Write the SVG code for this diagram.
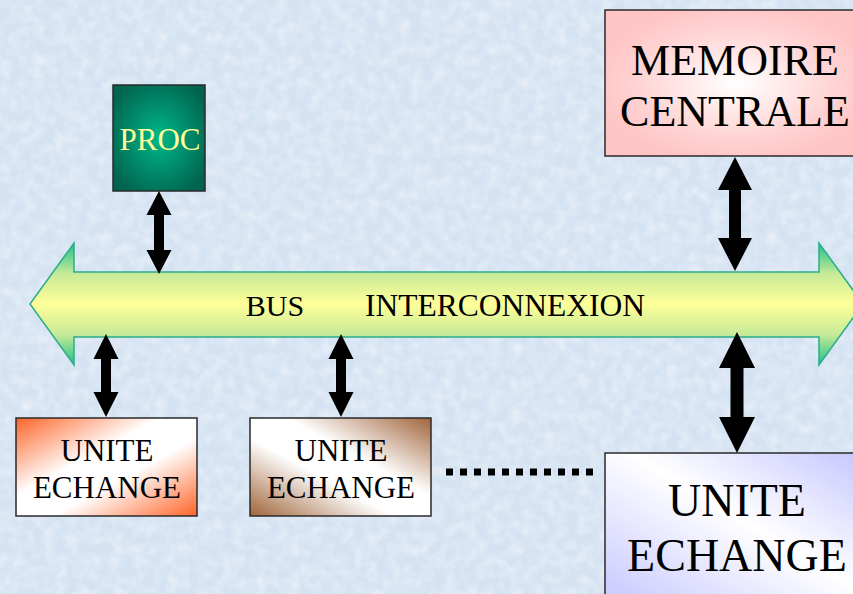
<svg xmlns="http://www.w3.org/2000/svg" width="853" height="594" viewBox="0 0 853 594">
<defs>
<style>
.box{stroke:#2a2a2a;stroke-width:1.5}
.t{font-family:"Liberation Serif","Times New Roman",serif;text-anchor:middle;fill:#000}
.arr{fill:#000}
</style>
<filter id="tex" x="0" y="0" width="100%" height="100%">
<feTurbulence type="fractalNoise" baseFrequency="0.09" numOctaves="2" seed="3" result="n"/>
<feColorMatrix in="n" type="matrix" values="0 0 0 0 1  0 0 0 0 1  0 0 0 0 1  0 0 0 -1.6 1.05" result="w"/>
<feComposite in="w" in2="SourceGraphic" operator="in"/>
</filter>
<linearGradient id="busg" x1="0" y1="0" x2="0" y2="1">
<stop offset="0" stop-color="#1fbf8a"/>
<stop offset="0.25" stop-color="#c6ea98"/>
<stop offset="0.5" stop-color="#ffff99"/>
<stop offset="0.75" stop-color="#c6ea98"/>
<stop offset="1" stop-color="#1fbf8a"/>
</linearGradient>
<radialGradient id="procg" cx="0.5" cy="0.5" r="0.6">
<stop offset="0" stop-color="#00b888"/>
<stop offset="1" stop-color="#00644f"/>
</radialGradient>
<radialGradient id="memg" cx="0.5" cy="0.5" r="0.55">
<stop offset="0" stop-color="#ffffff"/>
<stop offset="0.7" stop-color="#ffd2d2"/>
<stop offset="1" stop-color="#ffc4c4"/>
</radialGradient>
<linearGradient id="ue1" x1="0" y1="0" x2="1" y2="1">
<stop offset="0" stop-color="#ff6428"/>
<stop offset="0.4" stop-color="#ffffff"/>
<stop offset="0.6" stop-color="#ffffff"/>
<stop offset="1" stop-color="#ff6428"/>
</linearGradient>
<linearGradient id="ue2" x1="1" y1="0" x2="0" y2="1">
<stop offset="0" stop-color="#a0643a"/>
<stop offset="0.4" stop-color="#ffffff"/>
<stop offset="0.6" stop-color="#ffffff"/>
<stop offset="1" stop-color="#a0643a"/>
</linearGradient>
<linearGradient id="ue3" x1="1" y1="0" x2="0" y2="1">
<stop offset="0" stop-color="#c4c4ff"/>
<stop offset="0.45" stop-color="#ffffff"/>
<stop offset="1" stop-color="#c4c4ff"/>
</linearGradient>
</defs>
<rect width="853" height="594" fill="#d4e2f2"/>
<rect width="853" height="594" fill="#d4e2f2" filter="url(#tex)" opacity="0.5"/>

<g id="bus">
<polygon points="30,304 74,243 74,272 819,272 819,243 863,304 819,365 819,337 74,337 74,365" fill="url(#busg)" stroke="#2aae88" stroke-width="1.5"/>
<text class="t" x="275" y="316" font-size="30">BUS</text>
<text class="t" x="505" y="316" font-size="31.5">INTERCONNEXION</text>
</g>

<g id="proc">
<rect class="box" x="113" y="85" width="92" height="106" fill="url(#procg)"/>
<text class="t" x="160" y="150" font-size="31" style="fill:#ffff99">PROC</text>
</g>

<g id="memoire">
<rect class="box" x="605" y="10" width="262" height="146" fill="url(#memg)"/>
<text class="t" x="735" y="75" font-size="44">MEMOIRE</text>
<text class="t" x="735" y="126" font-size="44">CENTRALE</text>
</g>

<g id="unite1">
<rect class="box" x="16" y="418" width="181" height="98" fill="url(#ue1)"/>
<text class="t" x="107" y="461" font-size="31">UNITE</text>
<text class="t" x="107" y="498" font-size="31">ECHANGE</text>
</g>

<g id="unite2">
<rect class="box" x="250" y="418" width="181" height="98" fill="url(#ue2)"/>
<text class="t" x="341" y="461" font-size="31">UNITE</text>
<text class="t" x="341" y="498" font-size="31">ECHANGE</text>
</g>

<g id="unite3">
<rect class="box" x="605" y="453" width="265" height="160" fill="url(#ue3)"/>
<text class="t" x="737" y="516" font-size="46">UNITE</text>
<text class="t" x="737" y="571" font-size="46">ECHANGE</text>
</g>

<g id="connectors">
<polygon class="arr" points="159,191 171.5,215 164,215 164,250 171.5,250 159,274 146.5,250 154,250 154,215 146.5,215"/>
<polygon class="arr" points="735,157 752,190 741,190 741,238 752,238 735,271 718,238 729,238 729,190 718,190"/>
<polygon class="arr" points="737,332 755,368 743.5,368 743.5,417 755,417 737,453 719,417 730.5,417 730.5,368 719,368"/>
<polygon class="arr" points="106,334 118.5,359 111,359 111,392 118.5,392 106,417 93.5,392 101,392 101,359 93.5,359"/>
<polygon class="arr" points="341,334 353.5,359 346,359 346,392 353.5,392 341,417 328.5,392 336,392 336,359 328.5,359"/>
<line x1="446" y1="472" x2="600" y2="472" stroke="#000" stroke-width="7" stroke-dasharray="7 7"/>
</g>
</svg>
